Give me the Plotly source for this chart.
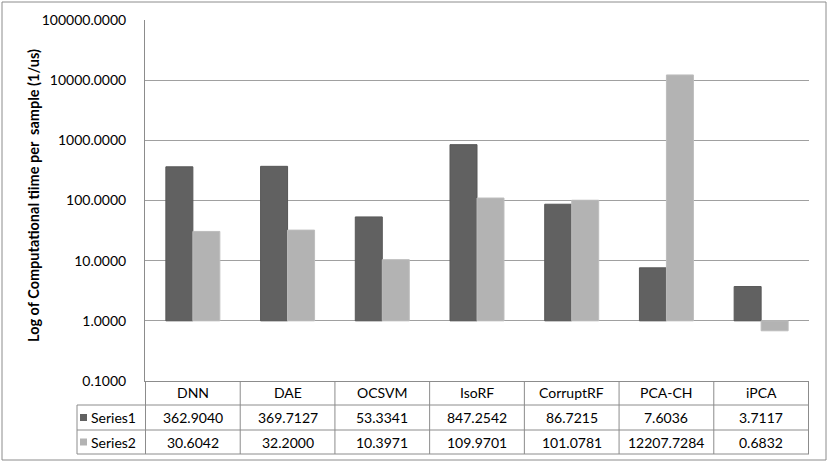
import plotly.graph_objects as go

CATEGORIES = ["DNN", "DAE", "OCSVM", "IsoRF", "CorruptRF", "PCA-CH", "iPCA"]
SERIES1 = [362.9040, 369.7127, 53.3341, 847.2542, 86.7215, 7.6036, 3.7117]
SERIES2 = [30.6042, 32.2000, 10.3971, 109.9701, 101.0781, 12207.7284, 0.6832]
SERIES_NAMES = ["Series1", "Series2"]
COLORS = ["#616161", "#b3b3b3"]
EDGES = ["#575757", "#bdbdbd"]
Y_TICKS = [0.1, 1, 10, 100, 1000, 10000, 100000]
Y_TITLE = "Log of Computational tiime per\u00a0 sample (1/us)"
BASE = 1.0  # Excel log axis crosses at 1

W, H = 830, 466
L, R, T, B = 145, 809, 20, 381
FONT = "Lato, Carlito, Calibri, sans-serif"
LINE = "#8c8c8c"


def px(x):
    return (x - L) / (R - L)


def py(y):
    return (B - y) / (B - T)


fig = go.Figure()
for name, vals, col, edge in zip(SERIES_NAMES, [SERIES1, SERIES2], COLORS, EDGES):
    fig.add_trace(go.Bar(
        x=CATEGORIES, y=[v - BASE for v in vals], base=BASE, name=name,
        marker=dict(color=col, line=dict(color=edge, width=1)),
        customdata=vals, hovertemplate="%{x}: %{customdata:.4f}<extra>" + name + "</extra>",
    ))

fig.update_layout(
    width=W, height=H,
    margin=dict(l=L, r=W - R, t=T, b=H - B, autoexpand=False),
    plot_bgcolor="white", paper_bgcolor="white",
    barmode="group", bargap=0.43, bargroupgap=0,
    showlegend=False,
    font=dict(family=FONT, size=14, color="#000000"),
)
fig.update_yaxes(
    type="log", range=[-1, 5], automargin=False,
    tickvals=Y_TICKS, ticktext=[f"{v:.4f}" for v in Y_TICKS],
    tickfont=dict(family=FONT, size=14),
    ticks="", ticklabelstandoff=15,
    showgrid=True, gridcolor="#a0a0a0", gridwidth=1,
    showline=True, linecolor=LINE, linewidth=1,
    zeroline=False,
)
fig.update_xaxes(
    automargin=False,
    showticklabels=False, ticks="", showgrid=False,
    showline=True, linecolor=LINE, linewidth=1,
)

shapes = []
# outer chart border
shapes.append(dict(type="rect", xref="paper", yref="paper",
                   x0=px(2), x1=px(826), y0=py(2), y1=py(460),
                   line=dict(color=LINE, width=1)))
# data table
rows_y = [405, 430, 454]
for yy in rows_y:
    shapes.append(dict(type="line", xref="paper", yref="paper",
                       x0=px(77), x1=1, y0=py(yy), y1=py(yy),
                       line=dict(color=LINE, width=1)))
shapes.append(dict(type="line", xref="paper", yref="paper",
                   x0=px(77), x1=px(77), y0=py(405), y1=py(454),
                   line=dict(color=LINE, width=1)))
for k in range(len(CATEGORIES) + 1):
    shapes.append(dict(type="line", xref="x", yref="paper",
                       x0=k - 0.5, x1=k - 0.5, y0=0, y1=py(454),
                       line=dict(color=LINE, width=1)))

cell = dict(showarrow=False, xanchor="center", yanchor="middle", font=dict(size=14))
annotations = [dict(x=px(33), xref="paper", y=py(196), yref="paper",
                    text="<b>" + Y_TITLE + "</b>", textangle=-90,
                    showarrow=False, xanchor="center", yanchor="middle",
                    font=dict(size=14.5))]
row_centers = [393, 417.5, 442]
for i, cat in enumerate(CATEGORIES):
    annotations.append(dict(x=cat, xref="x", y=py(row_centers[0]), yref="paper",
                            text=cat, **cell))
    for r, vals in enumerate([SERIES1, SERIES2]):
        annotations.append(dict(x=cat, xref="x", y=py(row_centers[r + 1]), yref="paper",
                                text=f"{vals[i]:.4f}", **cell))
for r, (name, col) in enumerate(zip(SERIES_NAMES, COLORS)):
    yc = row_centers[r + 1]
    shapes.append(dict(type="rect", xref="paper", yref="paper",
                       x0=px(80), x1=px(87), y0=py(yc - 3.5), y1=py(yc + 3.5),
                       fillcolor=col, line=dict(width=0)))
    annotations.append(dict(x=px(89), xref="paper", y=py(yc), yref="paper",
                            text=name, showarrow=False, xanchor="left", yanchor="middle",
                            font=dict(size=14)))

fig.update_layout(shapes=shapes, annotations=annotations)
fig.write_html("out.html", config={"displayModeBar": False},
               post_script="document.body.style.margin='0';")
